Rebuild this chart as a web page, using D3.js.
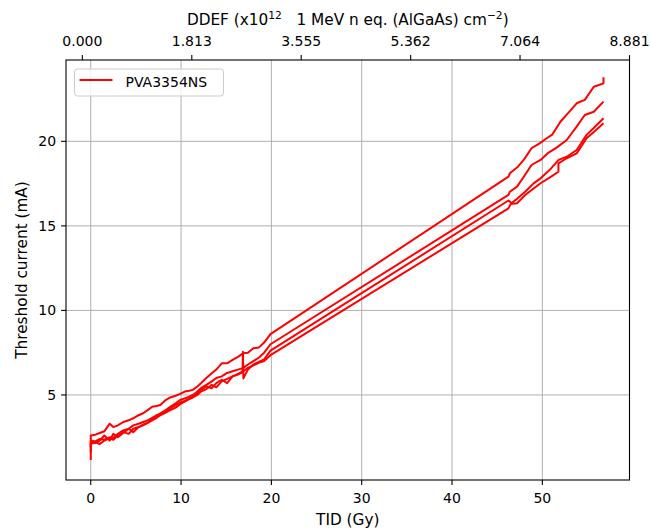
<!DOCTYPE html>
<html lang="en">
<head>
  <meta charset="UTF-8">
  <title>Threshold current vs TID</title>
  <style>
    body { margin: 0; background: #fff; }
    svg { display: block; font-family: "DejaVu Sans", sans-serif; }
    .grid line { stroke: #b0b0b0; stroke-width: 1; }
    .tick-mark { stroke: #000; stroke-width: 1.1; }
    .tick-label { font-size: 14px; fill: #000; }
    .axis-label { font-size: 15.3px; fill: #000; }
    .series { fill: none; stroke: #ff0000; stroke-width: 2; stroke-linejoin: round; }
  </style>
</head>
<body>
  <script src="https://cdn.jsdelivr.net/npm/d3@7"></script>
  <script>
    // bottom axis ticks (Gy) and left axis ticks (mA)
    const tidTicks = [0, 10, 20, 30, 40, 50];
    const currentTicks = [5, 10, 15, 20];

    // top axis: DDEF labels and where they sit on the TID scale
    const ddefTickTid = [-0.93, 11.19, 23.30, 35.42, 47.53, 59.65];
    const ddefLabels = ["0.000", "1.813", "3.555", "5.362", "7.064", "8.881"];

    // four measured devices, all the same part
    const tid1 = [0, 0, 0.5, 1.0, 1.5, 2.1, 2.5, 3.0, 3.6, 4.2, 4.7, 5.3, 5.8, 6.3, 6.8, 7.3, 7.7, 8.3, 8.8, 9.4, 9.9, 10.4, 10.9, 11.3, 11.8, 12.2, 12.8, 13.4, 13.9, 14.5, 15.1, 15.7, 16.3, 16.9, 17.4, 18.0, 18.6, 19.2, 19.9, 46.25, 46.4, 47.3, 48.0, 48.8, 49.7, 50.4, 51.1, 52.0, 52.9, 53.8, 54.7, 55.7, 56.77, 56.77];
    const cur1 = [2.3, 2.6, 2.65, 2.75, 2.85, 3.3, 3.1, 3.2, 3.4, 3.5, 3.62, 3.8, 3.92, 4.1, 4.3, 4.35, 4.41, 4.7, 4.85, 4.95, 5.06, 5.2, 5.25, 5.3, 5.5, 5.69, 6.0, 6.28, 6.5, 6.87, 6.87, 7.07, 7.25, 7.47, 7.5, 7.76, 7.8, 8.1, 8.6, 17.91, 18.11, 18.5, 18.95, 19.59, 19.88, 20.15, 20.4, 21.16, 21.7, 22.25, 22.45, 23.23, 23.43, 23.79];

    const tid2 = [0, 0, 0.5, 1.0, 1.5, 2.1, 2.5, 3.0, 3.6, 4.2, 4.7, 5.3, 5.8, 6.3, 6.8, 7.3, 7.7, 8.3, 8.8, 9.4, 9.9, 10.4, 10.9, 11.3, 11.8, 12.2, 12.8, 13.4, 13.9, 14.5, 15.1, 15.7, 16.3, 16.9, 17.4, 18.0, 18.6, 19.2, 19.9, 46.25, 46.4, 47.2, 48.0, 48.8, 49.8, 50.6, 51.5, 52.7, 53.8, 54.7, 55.7, 56.77];
    const cur2 = [1.9, 2.3, 2.25, 2.4, 2.35, 2.5, 2.45, 2.7, 2.9, 3.0, 3.2, 3.3, 3.4, 3.5, 3.65, 3.8, 3.9, 4.1, 4.3, 4.5, 4.7, 4.8, 4.9, 5.0, 5.2, 5.4, 5.6, 5.8, 6.0, 6.1, 6.3, 6.4, 6.5, 6.6, 6.8, 7.0, 7.2, 7.5, 8.0, 16.83, 17.02, 17.32, 17.95, 18.6, 18.9, 19.3, 19.6, 20.08, 20.87, 21.56, 21.75, 22.35];

    const tid3 = [0, 0, 0.5, 1.0, 1.5, 2.1, 2.5, 3.0, 3.6, 4.2, 4.7, 5.3, 5.8, 6.3, 6.8, 7.3, 7.7, 8.3, 8.8, 9.4, 9.9, 10.4, 10.9, 11.3, 11.8, 12.2, 12.8, 13.4, 13.9, 14.5, 15.1, 15.7, 16.3, 16.8, 16.85, 16.9, 17.4, 18.0, 18.6, 19.2, 19.9, 46.25, 46.6, 47.2, 48.1, 49.0, 49.8, 50.8, 51.8, 52.7, 53.8, 54.9, 55.8, 56.77];
    const cur3 = [1.6, 2.2, 2.15, 2.3, 2.6, 2.3, 2.7, 2.5, 2.75, 3.0, 2.8, 3.1, 3.25, 3.35, 3.6, 3.7, 3.9, 4.05, 4.2, 4.4, 4.55, 4.65, 4.8, 4.9, 5.1, 5.3, 5.5, 5.4, 5.7, 5.9, 5.7, 6.1, 6.2, 6.35, 7.56, 5.98, 6.5, 6.8, 6.95, 7.1, 7.62, 16.5, 16.35, 16.6, 17.02, 17.5, 17.81, 18.3, 18.9, 19.09, 19.49, 20.38, 20.85, 21.36];

    const tid4 = [0, 0, 0.5, 1.0, 1.5, 2.1, 2.5, 3.0, 3.6, 4.2, 4.7, 5.3, 5.8, 6.3, 6.8, 7.3, 7.7, 8.3, 8.8, 9.4, 9.9, 10.4, 10.9, 11.3, 11.8, 12.2, 12.8, 13.4, 13.9, 14.5, 15.1, 15.7, 16.3, 16.9, 17.4, 18.0, 18.6, 19.2, 19.9, 46.25, 46.5, 47.2, 48.1, 49.0, 49.8, 50.8, 51.78, 51.78, 52.7, 53.8, 54.9, 55.8, 56.77];
    const cur4 = [1.15, 2.1, 2.2, 2.1, 2.3, 2.45, 2.35, 2.6, 2.8, 2.7, 3.0, 3.1, 3.2, 3.35, 3.5, 3.65, 3.8, 3.95, 4.1, 4.25, 4.45, 4.6, 4.75, 4.85, 5.0, 5.2, 5.35, 5.6, 5.45, 5.8, 5.95, 6.1, 6.25, 6.4, 6.6, 6.75, 6.9, 7.0, 7.35, 16.04, 16.3, 16.34, 16.83, 17.2, 17.52, 17.85, 18.2, 18.7, 19.0, 19.29, 20.18, 20.6, 21.07];

    const seriesName = "PVA3354NS";

    const width = 651, height = 531;
    const plotLeft = 66, plotRight = 629.5, plotTop = 60, plotBottom = 480;

    const x = d3.scaleLinear().domain([-2.74, 59.65]).range([plotLeft, plotRight]);
    const y = d3.scaleLinear().domain([-0.03, 24.81]).range([plotBottom, plotTop]);

    const svg = d3.select("body").append("svg").attr("width", width).attr("height", height);

    // grid
    const grid = svg.append("g").attr("class", "grid");
    grid.selectAll(".gx").data(tidTicks).enter().append("line").attr("class", "gx")
      .attr("x1", d => x(d)).attr("x2", d => x(d)).attr("y1", plotTop).attr("y2", plotBottom);
    grid.selectAll(".gy").data(currentTicks).enter().append("line").attr("class", "gy")
      .attr("x1", plotLeft).attr("x2", plotRight).attr("y1", d => y(d)).attr("y2", d => y(d));

    // series
    const line = d3.line().x(d => x(d[0])).y(d => y(d[1]));
    const series = [[tid1, cur1], [tid2, cur2], [tid3, cur3], [tid4, cur4]];
    svg.append("g").selectAll("path").data(series).enter().append("path")
      .attr("class", "series")
      .attr("d", d => line(d3.zip(d[0], d[1])));

    // frame
    svg.append("rect").attr("x", plotLeft).attr("y", plotTop)
      .attr("width", plotRight - plotLeft).attr("height", plotBottom - plotTop)
      .attr("fill", "none").attr("stroke", "#000").attr("stroke-width", 1.1);

    // bottom ticks
    const bx = svg.append("g");
    bx.selectAll("line").data(tidTicks).enter().append("line").attr("class", "tick-mark")
      .attr("x1", d => x(d)).attr("x2", d => x(d)).attr("y1", plotBottom).attr("y2", plotBottom + 4.9);
    bx.selectAll("text").data(tidTicks).enter().append("text").attr("class", "tick-label")
      .attr("x", d => x(d)).attr("y", 502.5).attr("text-anchor", "middle").text(d => d);

    // left ticks
    const ly = svg.append("g");
    ly.selectAll("line").data(currentTicks).enter().append("line").attr("class", "tick-mark")
      .attr("x1", plotLeft - 4.9).attr("x2", plotLeft).attr("y1", d => y(d)).attr("y2", d => y(d));
    ly.selectAll("text").data(currentTicks).enter().append("text").attr("class", "tick-label")
      .attr("x", plotLeft - 9.8).attr("y", d => y(d) + 5).attr("text-anchor", "end").text(d => d);

    // top ticks (DDEF)
    const tx = svg.append("g");
    tx.selectAll("line").data(ddefTickTid).enter().append("line").attr("class", "tick-mark")
      .attr("x1", d => x(d)).attr("x2", d => x(d)).attr("y1", plotTop - 4.9).attr("y2", plotTop);
    tx.selectAll("text").data(ddefTickTid).enter().append("text").attr("class", "tick-label")
      .attr("x", d => x(d)).attr("y", 46).attr("text-anchor", "middle")
      .text((d, i) => ddefLabels[i]);

    // axis labels
    svg.append("text").attr("class", "axis-label")
      .attr("x", (plotLeft + plotRight) / 2).attr("y", 524.5).attr("text-anchor", "middle").text("TID (Gy)");

    svg.append("text").attr("class", "axis-label")
      .attr("transform", `translate(27,${(plotTop + plotBottom) / 2}) rotate(-90)`)
      .attr("text-anchor", "middle").text("Threshold current (mA)");

    const topLabel = svg.append("text").attr("class", "axis-label")
      .attr("x", (plotLeft + plotRight) / 2).attr("y", 24.5).attr("text-anchor", "middle");
    topLabel.append("tspan").text("DDEF (x10");
    topLabel.append("tspan").attr("dy", -6).attr("font-size", "10.7px").text("12");
    topLabel.append("tspan").attr("dy", 6).text("\u00a0\u00a0 1 MeV n eq. (AlGaAs) cm");
    topLabel.append("tspan").attr("dy", -6).attr("font-size", "10.7px").text("\u22122");
    topLabel.append("tspan").attr("dy", 6).text(")");

    // legend
    const legend = svg.append("g");
    legend.append("rect").attr("x", 74.5).attr("y", 69).attr("width", 149).attr("height", 27)
      .attr("rx", 3).attr("fill", "#fff").attr("fill-opacity", 0.8)
      .attr("stroke", "#cccccc").attr("stroke-width", 1);
    legend.append("line").attr("x1", 79.5).attr("x2", 112.5).attr("y1", 80).attr("y2", 80)
      .attr("stroke", "#ff0000").attr("stroke-width", 2);
    legend.append("text").attr("class", "tick-label").attr("x", 125.5).attr("y", 87).text(seriesName);
  </script>
</body>
</html>
